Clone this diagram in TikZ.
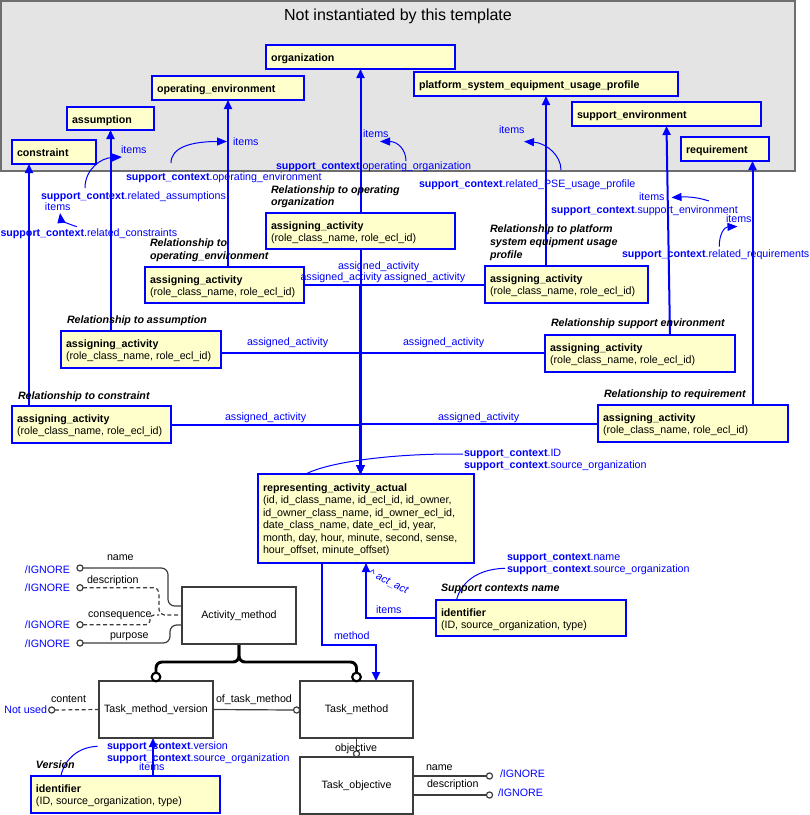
\documentclass[tikz,border=0pt]{standalone}
\usepackage{fontspec}
\setmainfont{Liberation Sans}
\usetikzlibrary{fit,arrows.meta,backgrounds,calc}
\definecolor{ybg}{HTML}{FFFFCC}
\definecolor{gbg}{HTML}{E4E4E4}
\definecolor{gbd}{HTML}{6E6E6E}
\definecolor{dk}{HTML}{3C3C3C}
\newcommand{\scx}{\textbf{support\_context}}
\newcommand{\ybx}[7]{%
  \node[ybox, fit={(#2,#3)(#4,#5)}] (#1) {};
  \node[tt] (#1-t) at ($(#2,#3)+(5,16.5)$) {#6};
  \node[ptx] (#1-p) at ($(#2,#3)+(5,28.5)$) {#7};}
\newcommand{\tbx}[6]{%
  \node[ybox, fit={(#2,#3)(#4,#5)}] (#1) {};
  \node[tt] (#1-t) at ($(#2,#3)+(5,16.5)$) {#6};}
\begin{document}
\begin{tikzpicture}[x=0.75pt,y=-0.75pt,
 every node/.style={inner sep=0pt, outer sep=0pt, font=\fontsize{8pt}{9.6pt}\selectfont},
 ybox/.style={draw=blue, fill=ybg, line width=1.5pt},
 wbox/.style={draw=dk, fill=white, line width=0.9pt},
 tt/.style={anchor=base west, font=\fontsize{8pt}{9.6pt}\selectfont\bfseries},
 ptx/.style={anchor=base west},
 bt/.style={anchor=base west, text=blue},
 rel/.style={anchor=base west, font=\fontsize{8pt}{9.6pt}\selectfont\bfseries\itshape},
 bl/.style={draw=blue, line width=1.5pt},
 ar/.style={-{Triangle[length=6.75pt,width=6pt]}},
 carr/.style={draw=blue, line width=0.75pt, -{Triangle[length=7.5pt,width=6pt]}},
 kl/.style={draw=dk, line width=0.9pt},
 dsh/.style={dash pattern=on 3pt off 2pt},
 circ/.style={circle, draw=dk, fill=white, line width=0.9pt, minimum size=4.6pt},
 bcirc/.style={circle, draw=black, fill=white, line width=1.6pt, minimum size=6.5pt},
]
\useasboundingbox (0,0) rectangle (810,815);

% ---------- template title ----------
\node[anchor=base, font=\fontsize{12pt}{14pt}\selectfont] (title) at (398,20.5) {Not instantiated by this template};

% ---------- top boxes ----------
\tbx{org}{266}{45}{455}{69}{organization}
\tbx{openv}{152}{76}{304}{100}{operating\_environment}
\tbx{assump}{67}{107}{154}{130}{assumption}
\tbx{constr}{12}{140}{96}{164}{constraint}
\tbx{pse}{414}{72}{678}{96}{platform\_system\_equipment\_usage\_profile}
\tbx{suppenv}{572}{102}{761}{126}{support\_environment}
\tbx{req}{681}{137}{769}{161}{requirement}

% ---------- assigning activities ----------
\ybx{aaorg}{266}{213}{455}{249}{assigning\_activity}{(role\_class\_name, role\_ecl\_id)}
\ybx{aaopenv}{145}{267}{304}{303}{assigning\_activity}{(role\_class\_name, role\_ecl\_id)}
\ybx{aapse}{485}{266}{648}{303}{assigning\_activity}{(role\_class\_name, role\_ecl\_id)}
\ybx{aaassump}{61}{331}{221}{368}{assigning\_activity}{(role\_class\_name, role\_ecl\_id)}
\ybx{aasuppenv}{545}{335}{735}{372}{assigning\_activity}{(role\_class\_name, role\_ecl\_id)}
\ybx{aaconstr}{12}{406}{171}{443}{assigning\_activity}{(role\_class\_name, role\_ecl\_id)}
\ybx{aareq}{598}{405}{788}{442}{assigning\_activity}{(role\_class\_name, role\_ecl\_id)}

% ---------- representing activity actual ----------
\node[ybox, fit={(258,474)(474,563)}] (raa) {};
\node[tt] (raa-t) at (263,491) {representing\_activity\_actual};
\node[ptx] (raa-1) at (263,503.5) {(id, id\_class\_name, id\_ecl\_id, id\_owner,};
\node[ptx] (raa-2) at (263,516) {id\_owner\_class\_name, id\_owner\_ecl\_id,};
\node[ptx] (raa-3) at (263,528.5) {date\_class\_name, date\_ecl\_id, year,};
\node[ptx] (raa-4) at (263,541) {month, day, hour, minute, second, sense,};
\node[ptx] (raa-5) at (263,553.5) {hour\_offset, minute\_offset)};

% ---------- identifiers ----------
\ybx{idsc}{436}{600}{626}{636}{identifier}{(ID, source\_organization, type)}
\ybx{idv}{31}{776}{220}{813}{identifier}{(ID, source\_organization, type)}

% ---------- white boxes ----------
\node[wbox, fit={(182,587)(296,644)}] (am) {};
\node (am-t) at (am.center) {Activity\_method};
\node[wbox, fit={(99,681)(213,738)}] (tmv) {};
\node (tmv-t) at (tmv.center) {Task\_method\_version};
\node[wbox, fit={(300,681)(413,738)}] (tm) {};
\node (tm-t) at (tm.center) {Task\_method};
\node[wbox, fit={(300,757)(413,814)}] (to) {};
\node (to-t) at (to.center) {Task\_objective};

% ---------- circles ----------
\node[circ] (c1) at (80,568) {};
\node[circ] (c2) at (80,587.7) {};
\node[circ] (c3) at (80,624.7) {};
\node[circ] (c4) at (80,643) {};
\node[circ] (ccont) at (51.7,710) {};
\node[circ] (ctm) at (296.6,710) {};
\node[circ] (cobj) at (356.5,753.8) {};
\node[circ] (cn1) at (489.5,776) {};
\node[circ] (cn2) at (489.5,795) {};
\node[bcirc] (cL) at (156,677) {};
\node[bcirc] (cR) at (356.5,677) {};

% ---------- relationship labels ----------
\node[rel] (r1a) at (271,193) {Relationship to operating};
\node[rel] (r1b) at (271,205) {organization};
\node[rel] (r2a) at (150,246) {Relationship to};
\node[rel] (r2b) at (150,259) {operating\_environment};
\node[rel] (r3a) at (490,232) {Relationship to platform};
\node[rel] (r3b) at (490,245) {system equipment usage};
\node[rel] (r3c) at (490,258) {profile};
\node[rel] (r4) at (67,323) {Relationship to assumption};
\node[rel] (r5) at (551,326) {Relationship support environment};
\node[rel] (r6) at (18,399) {Relationship to constraint};
\node[rel] (r7) at (604,397) {Relationship to requirement};
\node[rel] (r8) at (441,591) {Support contexts name};
\node[rel] (r9) at (36,768) {Version};

% ---------- blue labels ----------
\node[bt] (i1) at (233,145.5) {items};
\node[bt] (s1) at (126,180) {\scx.operating\_environment};
\node[bt] (i2) at (121,153) {items};
\node[bt] (s2) at (41,199) {\scx.related\_assumptions};
\node[bt] (i3) at (45,210) {items};
\node[bt] (s3) at (0.5,236) {\scx.related\_constraints};
\node[bt] (i4) at (363,137) {items};
\node[bt] (s4) at (276,169) {\scx.operating\_organization};
\node[bt] (i5) at (499,133) {items};
\node[bt] (s5) at (419,187) {\scx.related\_PSE\_usage\_profile};
\node[bt] (i6) at (639,200) {items};
\node[bt] (s6) at (551,213) {\scx.support\_environment};
\node[bt] (i7) at (726,222) {items};
\node[bt] (s7) at (622,257) {\scx.related\_requirements};
\node[bt] (aa1) at (338,269) {assigned\_activity};
\node[bt] (aa2) at (300.5,280.5) {assigned\_activity};
\node[bt] (aa3) at (384,280.5) {assigned\_activity};
\node[bt] (aa4) at (247,345) {assigned\_activity};
\node[bt] (aa5) at (403,345) {assigned\_activity};
\node[bt] (aa6) at (225,420) {assigned\_activity};
\node[bt] (aa7) at (438,420) {assigned\_activity};
\node[bt] (s8a) at (464,456) {\scx.ID};
\node[bt] (s8b) at (464,468.7) {\scx.source\_organization};
\node[bt] (s9a) at (507,560) {\scx.name};
\node[bt] (s9b) at (507,572.5) {\scx.source\_organization};
\node[bt] (i8) at (376,613) {items};
\node[text=blue, font=\fontsize{8pt}{9.6pt}\selectfont\itshape, rotate=-26] (actact) at (388.5,582) {\textasciicircum{} act\_act};
\node[bt] (meth) at (334,639.5) {method};
\node[bt] (s10a) at (107,749) {\scx.version};
\node[bt] (s10b) at (107,761.3) {\scx.source\_organization};
\node[bt] (i9) at (139,770.5) {items};
\node[text=blue, anchor=base east] (ig1) at (70,573) {/IGNORE};
\node[text=blue, anchor=base east] (ig2) at (70,591.5) {/IGNORE};
\node[text=blue, anchor=base east] (ig3) at (70,628.7) {/IGNORE};
\node[text=blue, anchor=base east] (ig4) at (70,647) {/IGNORE};
\node[text=blue, anchor=base east] (nu) at (47,713) {Not used};
\node[bt] (ig5) at (500,777) {/IGNORE};
\node[bt] (ig6) at (498,796) {/IGNORE};

% ---------- black labels ----------
\node[ptx] (ln1) at (107,560) {name};
\node[ptx] (ln2) at (87,583) {description};
\node[ptx] (ln3) at (88,617) {consequence};
\node[ptx] (ln4) at (110,638) {purpose};
\node[ptx] (ln5) at (51,702) {content};
\node[ptx] (ln6) at (216,702) {of\_task\_method};
\node[ptx] (ln7) at (335,751) {objective};
\node[ptx] (ln8) at (426,770) {name};
\node[ptx] (ln9) at (427,787) {description};

% ---------- coordinates ----------
\coordinate (mid) at (raa.north -| aaorg.south);
\coordinate (cx) at (29,0);
\coordinate (rx) at (752.5,0);
\coordinate (sx) at (670,0);
\coordinate (h2) at (0,353);
\coordinate (mA) at (322,645);
\coordinate (mB) at (376,645);
\coordinate (vx) at (153,0);

\begin{scope}[on background layer]
 \node[fill=gbg, draw=gbd, line width=1pt, fit={(1,1)(795,171)}] (tmpl) {};
 % up to the template entities
 \draw[bl,ar] (aaorg.north) -- (org.south);
 \draw[bl,ar] (aaopenv.north -| openv.south) -- (openv.south);
 \draw[bl,ar] (aapse.north -| pse.south) -- (pse.south);
 \draw[bl,ar] (aaassump.north -| assump.south) -- (assump.south);
 \draw[bl,ar] (aasuppenv.north -| sx) -- (suppenv.south);
 \draw[bl,ar] (aaconstr.north -| cx) -- (constr.south -| cx);
 \draw[bl,ar] (aareq.north -| rx) -- (req.south -| rx);
 % down to representing_activity_actual
 \draw[bl,ar] (aaorg.south) -- (mid);
 \draw[bl,ar] (aaopenv.east) -| (mid);
 \draw[bl,ar] (aapse.west) -| (mid);
 \draw[bl,ar] (aaassump.east |- h2) -| (mid);
 \draw[bl,ar] (aasuppenv.west |- h2) -| (mid);
 \draw[bl,ar] (aaconstr.east) -| (mid);
 \draw[bl,ar] (aareq.west) -| (mid);
 \draw[draw=blue, line width=2.3pt] (aaopenv.east -| mid) -- ($(mid)+(0,-8)$);
 % identifier / method
 \draw[bl,ar] (idsc.west) -| (raa.south);
 \draw[bl,ar] (raa.south -| mA) -- (mA) -- (mB) -- (tm.north -| mB);
 \draw[bl,ar] (idv.north -| vx) -- (tmv.south -| vx);
 % items curves
 \draw[carr] (171,163) .. controls (171,147) and (192,141.5) .. (227,141.5);
 \draw[carr] (85,188) .. controls (85,170) and (100,158) .. (122,157);
 \draw[carr] (77,226.7) .. controls (68,224) and (61,220) .. (60,213);
 \draw[carr] (406,161) .. controls (406,150) and (398,141.5) .. (380,141.5);
 \draw[carr] (561,170) .. controls (561,155) and (546,143) .. (524,141.5);
 \draw[carr] (709,201) .. controls (700,198) and (690,196.5) .. (671.5,197.5);
 \draw[carr] (719.3,246.7) .. controls (719,235) and (724,227) .. (737.5,226.5);
 \draw[carr] (463,454) -- (445,454) .. controls (370,455) and (312,466) .. (293,485);
 \draw[carr] (505,568.3) .. controls (472,569) and (456,588) .. (455,618);
 \draw[carr] (97.7,746.3) .. controls (74,747) and (60,765) .. (60,794);
 % activity method attributes
 \draw[kl, rounded corners=5pt] (c1.east) -- (168,568) -- (168,606) -- (am.west |- 0,606);
 \draw[kl, dsh, rounded corners=4pt] (c2.east) -- (159,587.7) -- (159,615) -- (am.west |- 0,615);
 \draw[kl, dsh, rounded corners=3pt] (c3.east) -- (150,624.7) -- (150,615) -- (159,615);
 \draw[kl, rounded corners=5pt] (c4.east) -- (170,643) -- (170,625) -- (am.west |- 0,625);
 \draw[kl, dsh] (tmv.west) -- (ccont.east);
 \draw[kl] (tmv.east) -- (ctm.west);
 \draw[kl] (tm.south) -- (cobj.north);
 \draw[kl] (to.east |- cn1) -- (cn1.west);
 \draw[kl] (to.east |- cn2) -- (cn2.west);
 % supertype tree
 \draw[black, line width=2.2pt, rounded corners=4.5pt] (am.south) -- (239,662) -- (156,662) -- (cL.north);
 \draw[black, line width=2.2pt, rounded corners=4.5pt] (am.south) -- (239,662) -- (356.5,662) -- (cR.north);
\end{scope}
\end{tikzpicture}
\end{document}
